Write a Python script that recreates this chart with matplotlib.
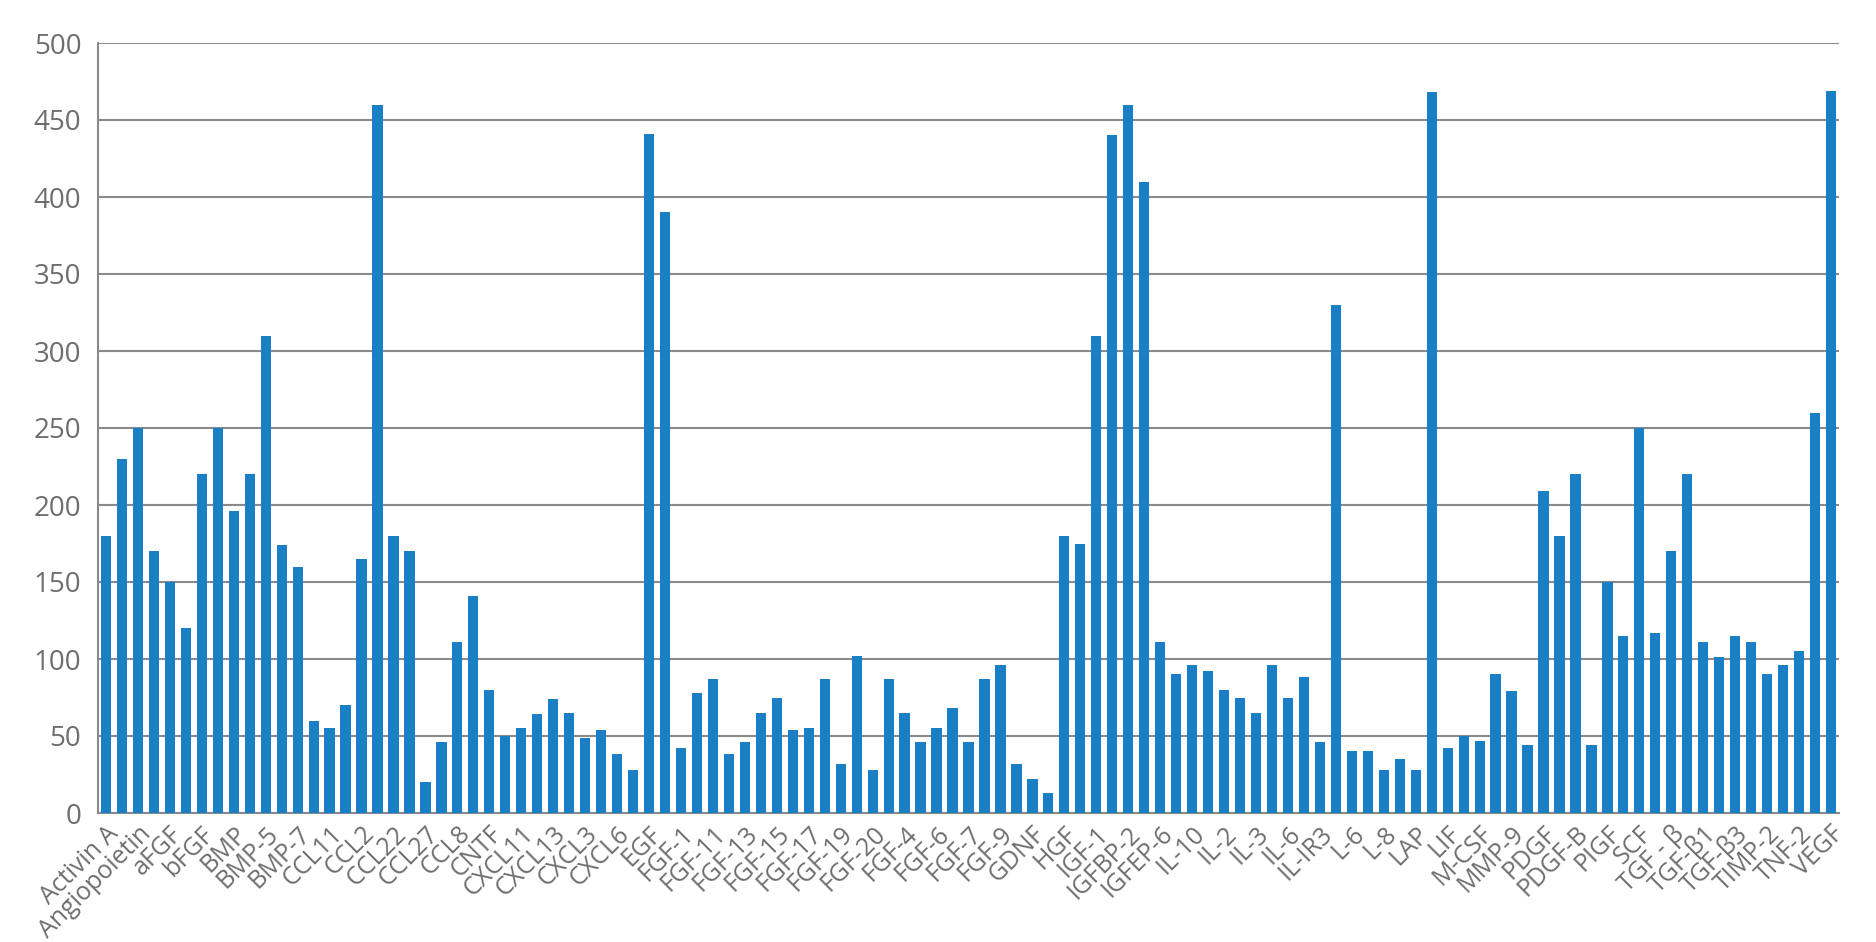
import matplotlib
matplotlib.use("Agg")
import matplotlib.pyplot as plt

# every other category carries a visible label (Excel skipped the rest)
shown_labels = [
    "Activin A", "Angiopoietin", "aFGF", "bFGF", "BMP", "BMP-5", "BMP-7",
    "CCL11", "CCL2", "CCL22", "CCL27", "CCL8", "CNTF", "CXCL11", "CXCL13",
    "CXCL3", "CXCL6", "EGF", "FGF-1", "FGF-11", "FGF-13", "FGF-15", "FGF-17",
    "FGF-19", "FGF-20", "FGF-4", "FGF-6", "FGF-7", "FGF-9", "GDNF", "HGF",
    "IGF-1", "IGFBP-2", "IGFEP-6", "IL-10", "IL-2", "IL-3", "IL-6", "IL-IR3",
    "L-6", "L-8", "LAP", "LIF", "M-CSF", "MMP-9", "PDGF", "PDGF-B", "PIGF",
    "SCF", "TGF - β", "TGF-β1", "TGF-β3", "TIMP-2", "TNF-2", "VEGF",
]

values = [
    180, 230, 250, 170, 150, 120, 220, 250, 196, 220,
    310, 174, 160, 60, 55, 70, 165, 460, 180, 170,
    20, 46, 111, 141, 80, 50, 55, 64, 74, 65,
    49, 54, 38, 28, 441, 390, 42, 78, 87, 38,
    46, 65, 75, 54, 55, 87, 32, 102, 28, 87,
    65, 46, 55, 68, 46, 87, 96, 32, 22, 13,
    180, 175, 310, 440, 460, 410, 111, 90, 96, 92,
    80, 75, 65, 96, 75, 88, 46, 330, 40, 40,
    28, 35, 28, 468, 42, 50, 47, 90, 79, 44,
    209, 180, 220, 44, 150, 115, 250, 117, 170, 220,
    111, 101, 115, 111, 90, 96, 105, 260, 469,
]

y_ticks = [0, 50, 100, 150, 200, 250, 300, 350, 400, 450, 500]

plt.rcParams['font.family'] = ['Open Sans', 'DejaVu Sans']

BAR = "#1a7fc5"
GRID = "#8a8a8a"
TXT = "#6e6e6e"

fig = plt.figure(figsize=(18.76, 9.42), dpi=100)
ax = fig.add_axes([98/1876, 1 - 813/942, (1839-98)/1876, (813-43)/942])

xs = list(range(len(values)))
ax.bar(xs, values, width=0.64, color=BAR, zorder=3)

ax.set_xlim(-0.5, len(values) - 0.5)
ax.set_ylim(0, 500)
ax.set_yticks(y_ticks)
ax.set_yticklabels([str(v) for v in y_ticks], fontsize=20, color=TXT)
ax.yaxis.grid(True, color=GRID, linewidth=1.5, zorder=0)
ax.set_axisbelow(True)

ax.set_xticks(xs[::2])
ax.set_xticklabels(shown_labels, rotation=45, ha="right", va="top",
                   rotation_mode="anchor", fontsize=18, color=TXT)
ax.tick_params(axis="both", length=0)
ax.tick_params(axis="y", pad=12)
ax.tick_params(axis="x", pad=6)

for side in ("top", "right"):
    ax.spines[side].set_visible(False)
for side in ("left", "bottom"):
    ax.spines[side].set_color(GRID)
    ax.spines[side].set_linewidth(1.5)

fig.savefig("out.png", dpi=100)
